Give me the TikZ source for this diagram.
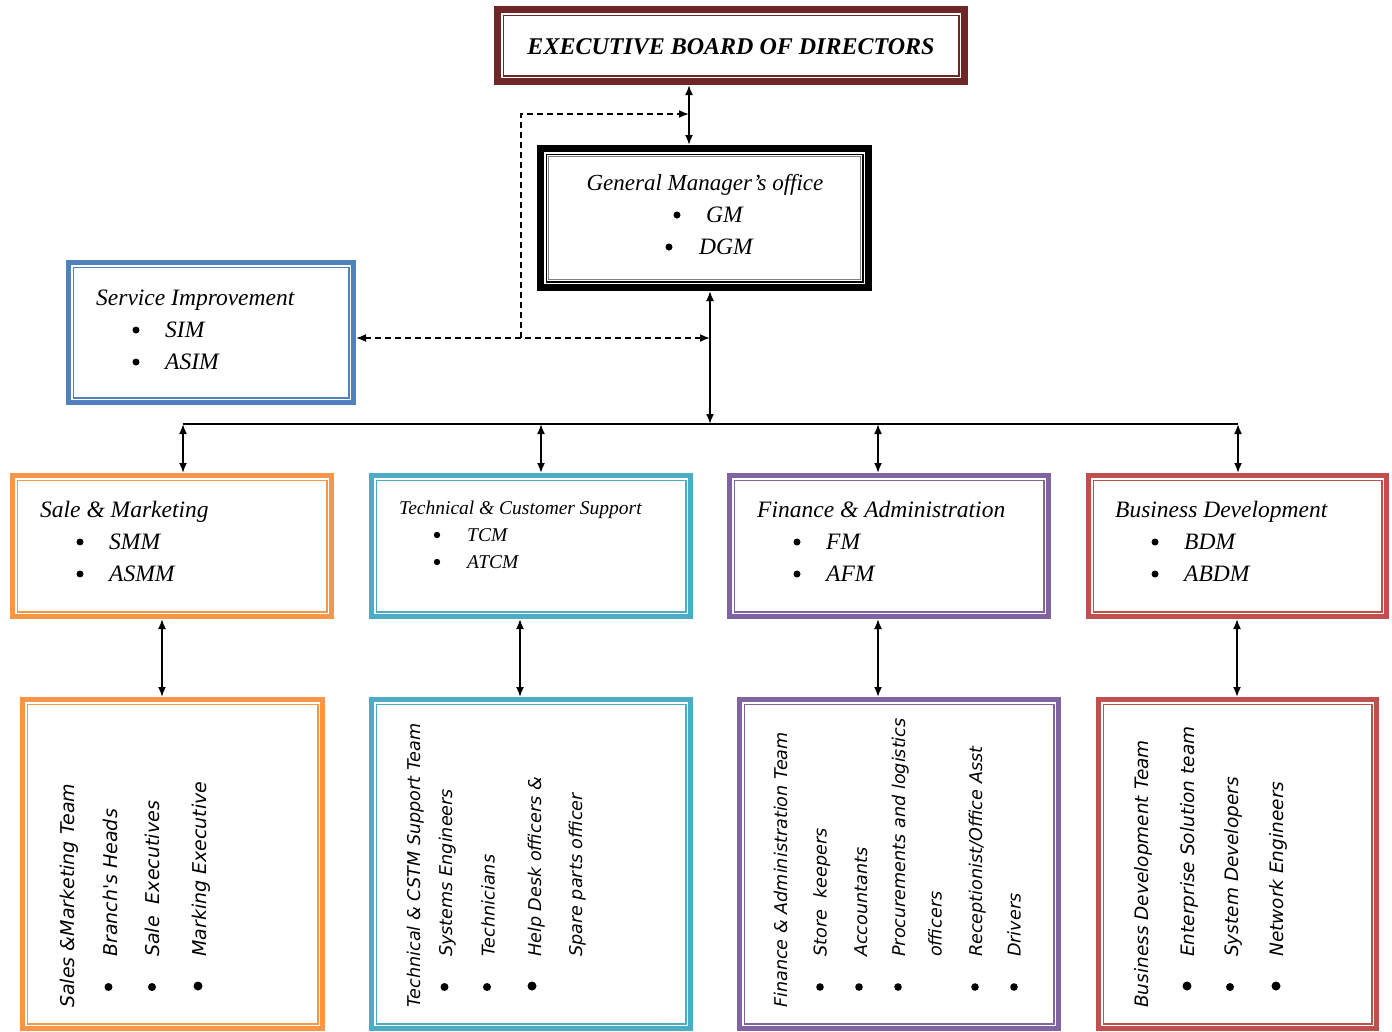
\documentclass[tikz,border=0pt]{standalone}
\usepackage{fontspec}
\setmainfont{Liberation Serif}
\newfontfamily\vsans{DejaVu Sans}
\usetikzlibrary{arrows.meta}
\definecolor{ebdcol}{RGB}{110,38,38}
\definecolor{sicol}{HTML}{4F81BD}
\definecolor{smcol}{HTML}{F79646}
\definecolor{tccol}{HTML}{4BACC6}
\definecolor{facol}{HTML}{8064A2}
\definecolor{bdcol}{HTML}{C0504D}
\tikzset{
  boxtxt/.style={font=\fontsize{23.5}{27}\selectfont\itshape, anchor=base west, inner sep=0pt},
  smalltxt/.style={font=\fontsize{19.5}{23}\selectfont\itshape, anchor=base west, inner sep=0pt},
  vtxt/.style={font=\vsans\fontsize{17.6}{22}\selectfont\itshape, rotate=90, anchor=base west, inner sep=0pt},
  vtxtL/.style={vtxt, font=\vsans\fontsize{19}{22}\selectfont\itshape},
  vtxtM/.style={vtxt, font=\vsans\fontsize{18.5}{22}\selectfont\itshape},
  tip/.tip={Latex[length=10pt,width=8pt]},
  conn/.style={line width=1.8pt, tip-tip},
  dconn/.style={line width=1.7pt, dash pattern=on 6pt off 4pt},
  bul/.style={fill=black},
}
% name, colour, x1, y1, x2, y2 (outer edges), band width
\newcommand\orgbox[7]{%
  \node[draw=#2, line width=#7pt, minimum width={(#5)-(#3)-(#7)}, minimum height={(#6)-(#4)-(#7)}, inner sep=0pt]
    (#1) at ({((#3)+(#5))/2},{((#4)+(#6))/2}) {};
  \draw[#2, line width=1.4pt] ({(#3)+(#7)+2.2},{(#4)+(#7)+2.2}) rectangle ({(#5)-(#7)-2.2},{(#6)-(#7)-2.2});
}
\begin{document}
\begin{tikzpicture}[x=1pt,y=-1pt]
\useasboundingbox[fill=white] (0,0) rectangle (1392,1031);

% ---------- boxes ----------
\orgbox{ebd}{ebdcol}{494}{6}{968}{85}{7}
\orgbox{gm}{black}{537}{145}{872}{291}{7}
\draw[gray, line width=1pt] (548.5,156.5) rectangle (860.5,279.5);
\orgbox{si}{sicol}{66}{260}{356}{405}{5}
\orgbox{sm}{smcol}{10}{473}{334}{619}{5}
\orgbox{tc}{tccol}{369}{473}{693}{619}{5}
\orgbox{fa}{facol}{727}{473}{1051}{619}{5}
\orgbox{bd}{bdcol}{1086}{473}{1389}{619}{5}
\orgbox{smt}{smcol}{20}{697}{325}{1031}{5}
\orgbox{tct}{tccol}{369}{697}{693}{1031}{5}
\orgbox{fat}{facol}{737}{697}{1061}{1031}{5}
\orgbox{bdt}{bdcol}{1096}{697}{1379}{1031}{5}

% ---------- texts in the upper boxes ----------
\node[font=\fontsize{24}{28}\selectfont\bfseries\itshape, inner sep=0pt] (ebdt) at (731,47) {EXECUTIVE BOARD OF DIRECTORS};

\node[font=\fontsize{23}{27}\selectfont\itshape, anchor=base, inner sep=0pt] (gmt) at (705,190) {General Manager's office};
\fill[bul] (677,215) circle (3.5);
\node[boxtxt] (gm1) at (706,222) {GM};
\fill[bul] (669,247) circle (3.5);
\node[boxtxt] (gm2) at (699,254) {DGM};

\node[boxtxt] (sit) at (96,305) {Service Improvement};
\fill[bul] (136,330) circle (3.5);
\node[boxtxt] (si1) at (165,337) {SIM};
\fill[bul] (136,362) circle (3.5);
\node[boxtxt] (si2) at (165,369) {ASIM};

\node[boxtxt] (smh) at (40,517) {Sale \& Marketing};
\fill[bul] (80,542) circle (3.5);
\node[boxtxt] (sm1) at (109,549) {SMM};
\fill[bul] (80,574) circle (3.5);
\node[boxtxt] (sm2) at (109,581) {ASMM};

\node[smalltxt] (tch) at (399,514) {Technical \& Customer Support};
\fill[bul] (437,535) circle (3.2);
\node[smalltxt] (tc1) at (467,541) {TCM};
\fill[bul] (437,562) circle (3.2);
\node[smalltxt] (tc2) at (467,568) {ATCM};

\node[boxtxt] (fah) at (757,517) {Finance \& Administration};
\fill[bul] (797,542) circle (3.5);
\node[boxtxt] (fa1) at (826,549) {FM};
\fill[bul] (797,574) circle (3.5);
\node[boxtxt] (fa2) at (826,581) {AFM};

\node[boxtxt] (bdh) at (1115,517) {Business Development};
\fill[bul] (1155,542) circle (3.5);
\node[boxtxt] (bd1) at (1184,549) {BDM};
\fill[bul] (1155,574) circle (3.5);
\node[boxtxt] (bd2) at (1184,581) {ABDM};

% ---------- vertical texts in the lower boxes ----------
\node[vtxtL] (s0) at (74,1008) {Sales \&Marketing Team};
\node[vtxtL] (s1) at (117,957) {Branch's Heads};
\node[vtxtL] (s2) at (159,957) {Sale\ \ Executives};
\node[vtxtL] (s3) at (206,957) {Marking Executive};
\fill[bul] (108.5,987) circle (4);
\fill[bul] (152,987) circle (4);
\fill[bul] (198,986) circle (4.5);

\node[vtxt] (t0) at (420,1008) {Technical \& CSTM Support Team};
\node[vtxt] (t1) at (452,957) {Systems Engineers};
\node[vtxt] (t2) at (494.5,957) {Technicians};
\node[vtxt] (t3) at (541,957) {Help Desk officers \&};
\node[vtxt] (t4) at (582,957) {Spare parts officer};
\fill[bul] (444.5,987) circle (4);
\fill[bul] (487,987) circle (4);
\fill[bul] (532,986) circle (4.5);

\node[vtxt] (f0) at (787,1008) {Finance \& Administration Team};
\node[vtxt] (f1) at (826.5,957) {Store\ \ keepers};
\node[vtxt] (f2) at (867,957) {Accountants};
\node[vtxt] (f3) at (905,957) {Procurements and logistics};
\node[vtxt] (f4) at (941.5,957) {officers};
\node[vtxt] (f5) at (982,957) {Receptionist/Office Asst};
\node[vtxt] (f6) at (1020.5,957) {Drivers};
\fill[bul] (820,987) circle (3.8);
\fill[bul] (859,987) circle (3.8);
\fill[bul] (898,987) circle (3.8);
\fill[bul] (975,987) circle (3.8);
\fill[bul] (1014,987) circle (3.8);

\node[vtxtM] (b0) at (1148,1008) {Business Development Team};
\node[vtxtM] (b1t) at (1194.5,957) {Enterprise Solution team};
\node[vtxtM] (b2t) at (1238,957) {System Developers};
\node[vtxtM] (b3t) at (1283,957) {Network Engineers};
\fill[bul] (1187,986) circle (4.5);
\fill[bul] (1230,987) circle (4);
\fill[bul] (1276,986) circle (4.5);

% ---------- connectors ----------
\coordinate (xa) at (689,114);
\draw[conn] (xa |- ebd.south) -- (xa |- gm.north);
\coordinate (dl) at (521,338);
\coordinate (dr) at (710,338);
\coordinate (dt) at (521,114);
\draw[dconn, tip-tip] (si.east |- dl) -- (dr);
\draw[dconn, -tip] (dl) -- (dt) -- (xa);

\coordinate (bj) at (710,424);
\draw[conn] (bj |- gm.south) -- (bj);
\coordinate (b1) at (183,424);
\coordinate (b2) at (541,424);
\coordinate (b3) at (878,424);
\coordinate (b4) at (1238,424);
\draw[line width=1.5pt] (b1) -- (b4);
\draw[conn] (b1) -- (b1 |- sm.north);
\draw[conn] (b2) -- (b2 |- tc.north);
\draw[conn] (b3) -- (b3 |- fa.north);
\draw[conn] (b4) -- (b4 |- bd.north);

\coordinate (e1) at (162,650);
\coordinate (e2) at (520,650);
\coordinate (e3) at (878,650);
\coordinate (e4) at (1237,650);
\draw[conn] (e1 |- sm.south) -- (e1 |- smt.north);
\draw[conn] (e2 |- tc.south) -- (e2 |- tct.north);
\draw[conn] (e3 |- fa.south) -- (e3 |- fat.north);
\draw[conn] (e4 |- bd.south) -- (e4 |- bdt.north);
\end{tikzpicture}
\end{document}
